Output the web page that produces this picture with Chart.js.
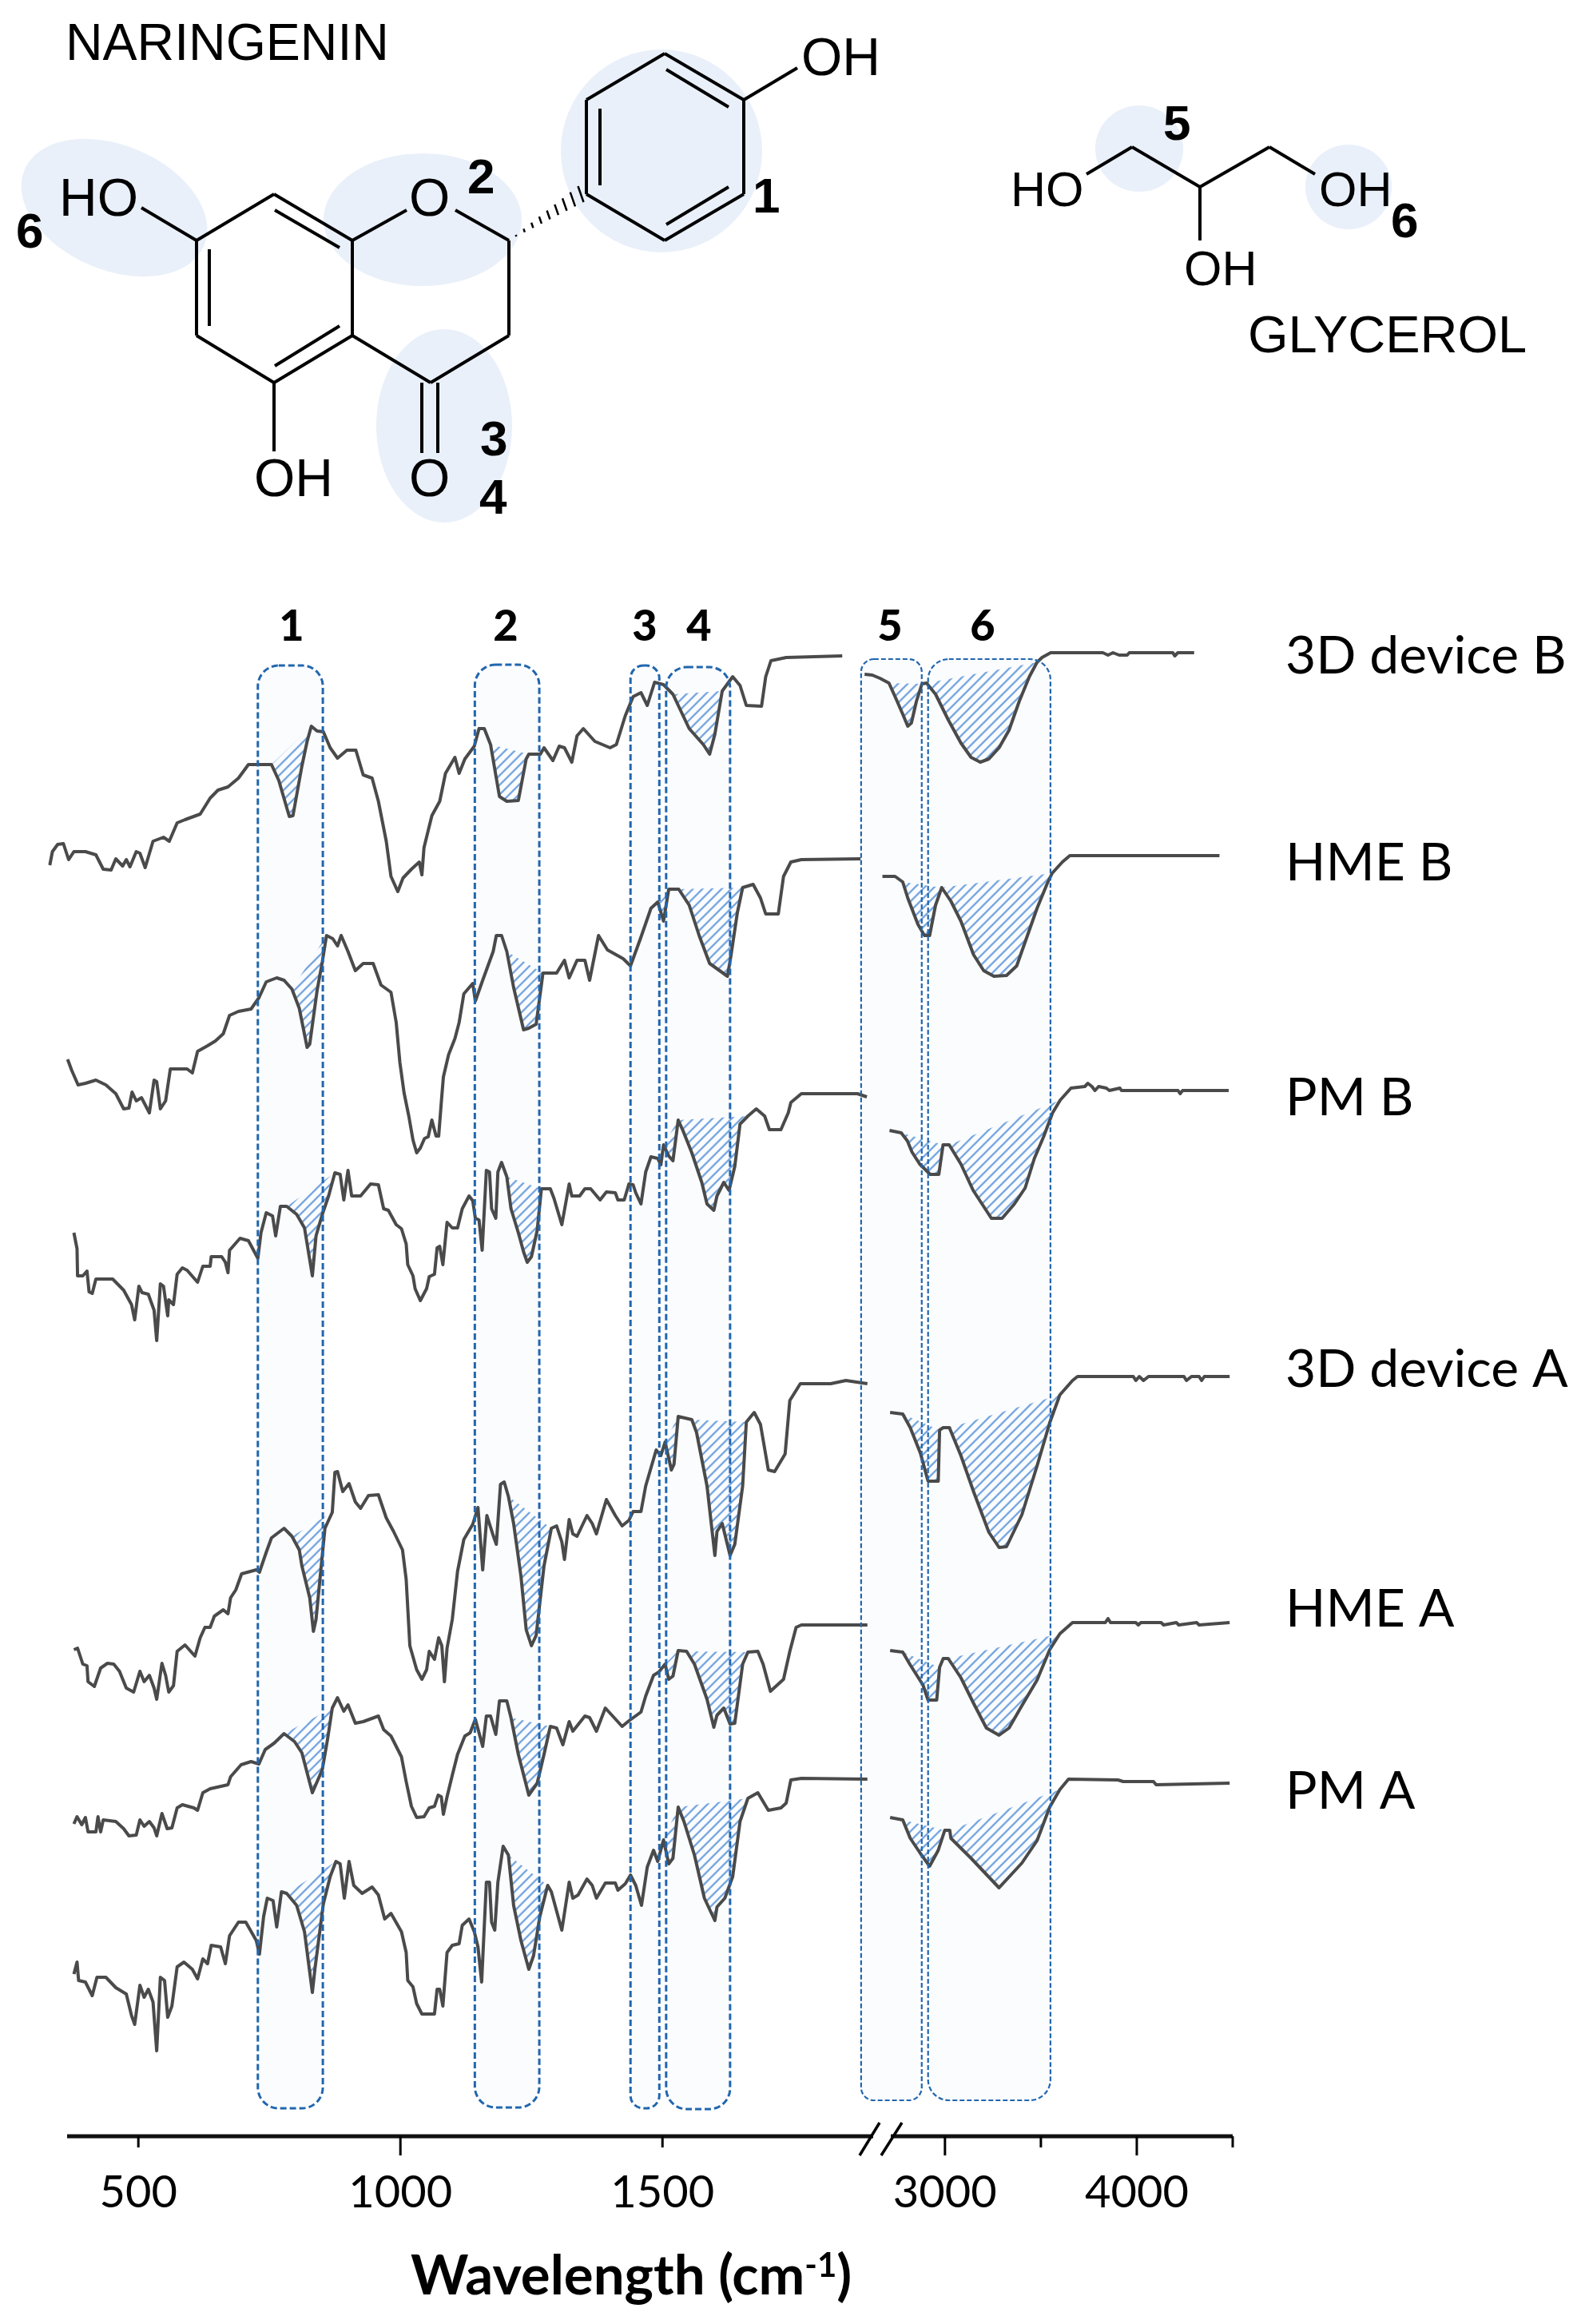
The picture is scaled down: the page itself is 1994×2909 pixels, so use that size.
<!DOCTYPE html>
<html>
<head>
<meta charset="utf-8">
<title>FTIR spectra of naringenin and glycerol</title>
<script src="https://cdn.jsdelivr.net/npm/chart.js@4/dist/chart.umd.js"></script>
<style>
  html, body { margin: 0; padding: 0; background: #fff; }
  canvas { display: block; }
</style>
</head>
<body>
<canvas id="ftir-chart" width="1994" height="2909"></canvas>
<script>
// Spectra. x is wavenumber (cm-1), y is the stacked
// transmittance offset above the axis (a.u.)
const deviceBX = [331,336,346,357,367,377,399,419,433,448,457,470,477,484,496,503,513,528,548,559,574,589,618,637,652,671,691,710,754,768,788,795,812,822,830,841,853,866,880,898,915,929,946,958,973,982,995,1005,1021,1036,1041,1045,1060,1075,1086,1104,1112,1123,1141,1150,1160,1172,1189,1203,1225,1240,1245,1267,1274,1291,1303,1313,1327,1337,1349,1371,1400,1412,1429,1444,1459,1471,1485,1502,1520,1551,1578,1590,1600,1614,1634,1648,1660,1689,1697,1707,1736,1843,
  2581,2621,2661,2708,2740,2780,2806,2825,2851,2880,2904,2951,3017,3083,3136,3184,3229,3282,3334,3387,3440,3480,3506,3551,3823,3850,3876,3908,3950,3961,4188,4198,4214,4299];
const deviceBY = [1590,1607,1616,1617,1597,1607,1607,1603,1585,1584,1598,1589,1597,1588,1607,1605,1587,1620,1625,1620,1643,1647,1654,1674,1684,1688,1699,1716,1716,1696,1651,1652,1714,1745,1764,1758,1757,1737,1724,1734,1734,1703,1699,1670,1620,1576,1557,1574,1585,1594,1578,1612,1652,1670,1705,1725,1705,1723,1739,1761,1761,1741,1676,1670,1671,1723,1729,1729,1737,1721,1739,1737,1719,1752,1761,1745,1737,1741,1777,1801,1806,1790,1819,1816,1804,1761,1741,1729,1754,1808,1826,1815,1790,1789,1826,1846,1850,1852,
  1829,1828,1824,1818,1801,1779,1764,1768,1795,1817,1818,1804,1772,1743,1725,1719,1723,1737,1759,1795,1826,1844,1850,1856,1856,1853,1856,1853,1853,1856,1856,1852,1856,1856];

const hmeBX = [365,373,385,399,419,438,457,472,482,488,496,506,521,530,535,542,552,561,593,603,613,632,647,662,674,691,715,730,744,764,778,793,807,822,827,841,851,859,871,880,887,900,914,929,948,963,982,992,999,1007,1016,1024,1031,1038,1046,1053,1060,1068,1073,1078,1082,1092,1104,1112,1121,1138,1143,1157,1177,1183,1193,1203,1216,1235,1245,1259,1272,1298,1313,1322,1337,1352,1361,1378,1395,1425,1439,1459,1478,1491,1502,1512,1531,1551,1570,1590,1624,1631,1643,1653,1673,1687,1697,1721,1731,1745,1765,1878,
  2674,2740,2780,2806,2859,2893,2920,2951,2983,3031,3083,3149,3202,3255,3321,3374,3427,3480,3533,3559,3612,3651,4431];
const hmeBY = [1347,1333,1315,1317,1321,1315,1304,1285,1286,1306,1295,1299,1280,1321,1319,1285,1295,1335,1335,1330,1357,1364,1370,1379,1402,1407,1410,1424,1444,1449,1446,1435,1411,1362,1366,1433,1469,1502,1498,1489,1502,1482,1458,1467,1467,1440,1431,1393,1343,1305,1276,1246,1230,1236,1248,1250,1271,1251,1251,1293,1325,1353,1373,1393,1429,1442,1420,1446,1482,1502,1502,1482,1437,1384,1386,1391,1455,1455,1471,1449,1471,1471,1446,1502,1484,1473,1464,1500,1536,1544,1520,1560,1560,1540,1502,1467,1451,1478,1531,1562,1566,1549,1529,1529,1576,1594,1597,1598,
  1576,1576,1569,1549,1516,1502,1502,1540,1562,1545,1520,1478,1458,1451,1452,1464,1500,1536,1567,1580,1594,1602,1602];

const pmBX = [377,383,384,394,402,406,412,419,451,472,487,493,501,507,519,530,535,542,548,556,558,567,574,584,593,613,623,637,639,659,666,671,674,694,710,728,734,744,756,762,771,783,802,817,832,839,851,863,875,885,892,900,907,924,943,958,968,977,992,1002,1011,1014,1024,1028,1038,1050,1055,1065,1070,1075,1081,1089,1099,1109,1118,1131,1138,1143,1150,1156,1164,1170,1174,1182,1186,1193,1203,1211,1225,1235,1242,1250,1261,1269,1286,1293,1308,1322,1327,1342,1352,1363,1381,1393,1410,1415,1427,1436,1444,1449,1459,1468,1478,1491,1497,1502,1512,1520,1530,1539,1556,1575,1585,1598,1604,1617,1627,1638,1648,1663,1679,1695,1704,1726,1740,1745,1765,1872,1890,
  2711,2772,2804,2828,2868,2923,2968,2990,3022,3083,3147,3242,3298,3362,3418,3466,3514,3561,3601,3657,3729,3745,3766,3782,3801,3841,3857,3912,3920,4215,4226,4239,4479];
const pmBY = [1130,1110,1076,1076,1082,1056,1054,1072,1072,1058,1040,1021,1063,1055,1053,1033,995,1066,1063,1026,1046,1040,1078,1086,1083,1068,1088,1088,1100,1100,1093,1080,1108,1123,1120,1098,1130,1155,1151,1126,1163,1163,1153,1136,1076,1126,1153,1176,1205,1203,1171,1208,1176,1176,1191,1190,1160,1158,1140,1135,1116,1090,1076,1060,1045,1060,1075,1078,1111,1113,1090,1143,1136,1136,1160,1176,1170,1148,1146,1108,1208,1206,1160,1148,1206,1218,1200,1160,1130,1106,1093,1100,1133,1185,1185,1173,1140,1191,1176,1176,1185,1185,1171,1181,1180,1171,1171,1191,1190,1180,1166,1206,1225,1223,1215,1240,1226,1220,1271,1258,1230,1193,1166,1158,1176,1193,1183,1213,1266,1276,1285,1276,1259,1259,1280,1293,1304,1304,1300,
  1258,1255,1245,1231,1216,1203,1203,1240,1240,1216,1183,1148,1148,1166,1186,1223,1250,1280,1296,1311,1313,1317,1313,1308,1313,1311,1308,1311,1308,1308,1304,1308,1308];

const deviceAX = [377,384,394,402,404,416,428,441,453,464,477,491,503,511,521,530,535,545,552,558,567,574,589,608,618,627,637,645,662,671,676,686,697,725,731,744,754,778,793,807,812,827,834,839,856,870,875,880,890,902,914,924,939,958,973,987,1004,1011,1018,1031,1041,1050,1055,1065,1073,1079,1084,1089,1099,1109,1121,1138,1148,1157,1165,1177,1183,1191,1198,1206,1216,1230,1240,1250,1259,1274,1288,1298,1308,1313,1322,1329,1337,1356,1366,1374,1393,1410,1423,1436,1444,1459,1468,1488,1497,1505,1517,1522,1530,1556,1565,1585,1600,1604,1614,1629,1638,1653,1660,1675,1687,1702,1714,1734,1743,1763,1821,1850,1891,
  2714,2780,2819,2872,2912,2965,2972,2991,3023,3083,3149,3229,3282,3321,3401,3480,3546,3599,3665,3691,3982,3995,4013,4035,4061,4246,4259,4285,4325,4338,4352,4484];
const deviceAY = [608,610,590,588,568,562,585,591,590,581,560,555,581,568,576,560,546,591,576,555,563,606,614,600,623,636,636,650,658,653,673,683,703,708,705,730,748,760,750,733,713,673,631,646,760,780,830,831,806,816,793,785,801,802,773,756,733,696,613,583,571,583,606,596,623,613,568,610,646,706,746,765,786,708,776,751,740,815,818,800,766,700,633,613,626,713,760,763,743,721,771,753,750,776,766,753,796,776,763,770,781,781,813,858,851,868,833,840,900,896,880,813,726,756,766,726,740,813,893,905,890,833,831,853,920,941,941,945,941,
  905,903,886,854,819,819,883,886,886,851,806,755,736,737,777,838,892,927,945,950,950,945,950,945,950,950,945,950,950,945,950,950];

const hmeAX = [377,383,392,399,404,419,423,428,433,457,472,482,496,503,511,521,530,535,545,555,564,574,584,606,613,623,637,671,676,696,715,730,742,759,778,798,812,832,851,861,870,880,892,900,914,929,958,968,982,1002,1011,1021,1031,1045,1055,1065,1072,1078,1082,1089,1099,1109,1123,1133,1143,1157,1164,1172,1182,1189,1203,1211,1225,1245,1261,1274,1286,1298,1310,1322,1329,1352,1361,1374,1391,1405,1423,1436,1459,1468,1483,1493,1505,1512,1520,1530,1546,1561,1585,1598,1604,1617,1629,1638,1653,1663,1682,1692,1706,1731,1743,1755,1765,1891,
  2714,2780,2819,2885,2912,2957,2972,2991,3017,3083,3149,3216,3282,3334,3401,3480,3546,3599,3665,3836,3850,3863,3995,4008,4021,4127,4140,4206,4219,4312,4325,4484];
const hmeAY = [390,399,389,398,380,380,399,380,395,393,384,375,376,395,387,393,385,375,403,384,385,410,414,410,407,429,434,439,449,464,468,465,483,491,503,493,479,429,458,496,535,548,531,539,516,518,525,508,500,474,443,412,398,399,410,412,426,424,402,424,451,477,500,504,521,487,525,525,502,544,544,523,477,426,441,477,512,510,489,518,506,525,523,506,535,525,512,519,530,550,576,580,590,571,575,607,606,590,546,511,526,535,515,516,590,605,606,590,556,571,606,636,639,639,
  607,605,589,564,545,545,586,597,597,573,541,510,501,510,538,570,608,628,642,642,647,642,642,639,642,642,639,642,639,642,639,642];

const pmAX = [377,383,386,399,412,421,438,457,477,487,493,503,511,519,528,535,542,550,556,564,574,587,603,613,623,632,639,657,666,674,691,705,725,731,739,746,757,764,773,783,802,817,832,837,853,866,877,885,893,902,911,927,946,958,970,982,1002,1011,1014,1024,1031,1041,1065,1070,1075,1081,1089,1099,1112,1118,1131,1141,1148,1155,1164,1170,1174,1180,1186,1196,1206,1216,1230,1245,1254,1266,1281,1288,1308,1322,1329,1339,1356,1366,1374,1391,1410,1415,1429,1439,1449,1460,1471,1483,1491,1502,1512,1520,1530,1541,1561,1580,1600,1604,1619,1634,1648,1663,1682,1702,1726,1736,1745,1765,1891,
  2714,2780,2819,2872,2920,2965,2999,3025,3031,3136,3282,3401,3480,3546,3599,3644,3902,3929,4087,4101,4484];
const pmAY = [202,217,194,192,175,198,198,185,177,150,139,188,173,183,167,106,198,194,148,162,211,217,208,196,221,215,238,236,215,250,267,267,244,227,274,297,294,261,305,303,288,255,179,209,290,324,343,340,297,343,313,303,311,301,271,278,255,229,194,186,165,152,152,183,183,162,229,238,240,263,271,255,236,192,317,317,267,257,317,362,351,288,244,208,225,274,313,305,257,317,297,301,321,313,297,316,316,307,315,326,313,288,336,357,343,370,340,347,411,393,351,297,269,286,297,324,393,422,429,407,410,416,445,447,446,
  398,395,372,353,337,357,382,382,372,347,310,341,369,411,433,446,445,443,443,439,441];

// Shaded peaks per trace, [from, to] in cm-1
const deviceBPeaks = [[754,830],[1172,1245],[1471,1485],[1520,1614],[2708,2880],[2904,3480]];
const hmeBPeaks = [[793,859],[1203,1272],[1491,1512],[1531,1653],[2780,2983],[2983,3559]];
const pmBPeaks = [[783,875],[1203,1269],[1502,1530],[1530,1663],[2772,2990],[3022,3601]];
const deviceAPeaks = [[793,870],[1206,1288],[1505,1530],[1556,1660],[2780,2972],[3023,3599]];
const hmeAPeaks = [[778,870],[1211,1286],[1505,1530],[1546,1663],[2780,2972],[3017,3599]];
const pmAPeaks = [[783,877],[1206,1281],[1502,1530],[1530,1663],[2780,2999],[3025,3599]];

const traceNames = ["3D device B", "HME B", "PM B", "3D device A", "HME A", "PM A"];

// Axis
const tickValues = [500, 1000, 1500, 3000, 3500, 4000, 4500];
const tickLabels = ["500", "1000", "1500", "3000", "", "4000", ""];
const tickLengths = [14, 24, 14, 24, 14, 24, 14];

// Marked regions, cm-1 and offset units
const regionNames = ["1", "2", "3", "4", "5", "6"];
const regionFrom = [728, 1142, 1439, 1507, 1879, 2912];
const regionTo = [852, 1265, 1494, 1629, 2879, 3550];
const regionTop = [1840, 1841, 1840, 1838, 1848, 1848];
const regionBottom = [34, 35, 34, 33, 44, 44];

// x axis is broken: everything above the gap is squeezed onto the end of the scale
function toAxis(wn) {
  return wn < 2200 ? wn : 2039 + (wn - 3000) * 0.366;
}

function tracePoints(xs, ys) {
  const points = [];
  xs.forEach((x, i) => {
    if (i > 0 && xs[i - 1] < 2200 && x >= 2200) {
      points.push({ x: toAxis(x), y: null });
    }
    points.push({ x: toAxis(x), y: ys[i] });
  });
  return points;
}

function hatchPattern() {
  const size = 12;
  const tile = document.createElement("canvas");
  tile.width = size;
  tile.height = size;
  const c = tile.getContext("2d");
  c.strokeStyle = "#7aa9e0";
  c.lineWidth = 2.4;
  c.beginPath();
  c.moveTo(-2, size + 2);
  c.lineTo(size + 2, -2);
  c.moveTo(-2, 2);
  c.lineTo(2, -2);
  c.moveTo(size - 2, size + 2);
  c.lineTo(size + 2, size - 2);
  c.stroke();
  return c.createPattern(tile, "repeat");
}

const hatch = hatchPattern();

const traces = [
  [deviceBX, deviceBY, deviceBPeaks],
  [hmeBX, hmeBY, hmeBPeaks],
  [pmBX, pmBY, pmBPeaks],
  [deviceAX, deviceAY, deviceAPeaks],
  [hmeAX, hmeAY, hmeAPeaks],
  [pmAX, pmAY, pmAPeaks],
];

const datasets = [];
traces.forEach(([xs, ys, peaks], t) => {
  datasets.push({
    label: traceNames[t],
    data: tracePoints(xs, ys),
    borderColor: "#4a4a4a",
    borderWidth: 4,
    borderJoinStyle: "round",
    pointRadius: 0,
    tension: 0,
    fill: false,
    clip: false,
    order: 1,
  });
  peaks.forEach(([from, to]) => {
    const data = [];
    xs.forEach((x, i) => {
      if (x >= from && x <= to) data.push({ x: toAxis(x), y: ys[i] });
    });
    datasets.push({
      label: traceNames[t] + " peak",
      data: data,
      borderWidth: 0,
      pointRadius: 0,
      tension: 0,
      backgroundColor: hatch,
      fill: "shape",
      clip: false,
      order: 2,
    });
  });
});

// Structures above the plot, in page pixels
const STRUCT_FILL = "#e9f0fa";
const structBlobs = [
  [828, 189, 126, 127, 0], [529, 275, 124, 83, 0], [556, 533, 85, 121, 0], [143, 260, 122, 78, 0.4],
  [1426, 186, 55, 54, 0], [1688, 234, 54, 53, 0],
];
const structBonds = [
  [246,301,343,243],[343,243,441,301],[441,301,441,420],[441,420,343,479],[343,479,246,420],[246,420,246,301],
  [262,312,262,408],[344,263,425,310],[344,458,425,408],
  [441,301,509,263],[570,263,637,301],[637,301,637,420],[637,420,539,479],[539,479,441,420],
  [177,260,246,301],[343,479,343,565],[528,479,528,567],[548,479,548,567],
  [734,243,734,125],[734,125,832,67],[832,67,931,125],[931,125,931,243],[931,243,832,301],[832,301,734,243],
  [751,136,751,232],[834,87,912,134],[834,281,912,234],[931,125,998,85],
  [1360,218,1417,184],[1417,184,1502,234],[1502,234,1589,184],[1589,184,1646,218],[1502,234,1502,301],
];
const structTexts = [
  ["NARINGENIN", 82, 75, 64.5, ""], ["OH", 1003, 94, 66, ""], ["HO", 74, 270, 66, ""], ["O", 512, 270, 66, ""],
  ["OH", 318, 621, 66, ""], ["O", 512, 621, 66, ""],
  ["HO", 1265, 258, 61, ""], ["OH", 1651, 258, 61, ""], ["OH", 1482, 357, 61, ""], ["GLYCEROL", 1562, 441, 65, ""],
  ["2", 585, 242, 62, "bold"], ["1", 942, 266, 62, "bold"], ["6", 20, 310, 62, "bold"], ["3", 601, 570, 62, "bold"],
  ["4", 600, 643, 62, "bold"], ["5", 1456, 175, 62, "bold"], ["6", 1741, 297, 62, "bold"],
];
const regionNameX = [365, 633, 807, 875, 1114, 1230];
const traceNameY = [843, 1102, 1396, 1736, 2036, 2264];

function roundedBand(ctx, scales, i) {
  const x0 = scales.x.getPixelForValue(toAxis(regionFrom[i]));
  const x1 = scales.x.getPixelForValue(toAxis(regionTo[i]));
  const y0 = scales.y.getPixelForValue(regionTop[i]);
  const y1 = scales.y.getPixelForValue(regionBottom[i]);
  ctx.beginPath();
  ctx.roundRect(x0, y0, x1 - x0, y1 - y0, i === 4 || i === 2 ? 16 : 26);
}

const regionsAndLabels = {
  id: "regionsAndLabels",
  beforeDatasetsDraw(chart) {
    const { ctx, scales } = chart;
    ctx.save();
    ctx.fillStyle = "#fbfcfe";
    regionNames.forEach((_, i) => {
      roundedBand(ctx, scales, i);
      ctx.fill();
    });
    ctx.restore();
  },
  afterDatasetsDraw(chart) {
    const { ctx, scales } = chart;
    ctx.save();
    ctx.strokeStyle = "#2166ae";
    regionNames.forEach((_, i) => {
      ctx.lineWidth = i > 3 ? 2.2 : 3;
      ctx.setLineDash(i > 3 ? [6, 3] : [8, 4]);
      roundedBand(ctx, scales, i);
      ctx.stroke();
    });
    ctx.setLineDash([]);

    // axis line starts right of the first trace point, so it is drawn here
    const axisY = scales.x.top + 1;
    const axisEnd = scales.x.getPixelForValue(toAxis(4500));
    ctx.strokeStyle = "#111";
    ctx.lineWidth = 5;
    ctx.beginPath();
    ctx.moveTo(84, axisY);
    ctx.lineTo(axisEnd, axisY);
    ctx.stroke();

    // tick marks, lengths differ so the grid option cannot draw them
    ctx.strokeStyle = "#000";
    ctx.lineWidth = 3;
    tickValues.forEach((v, i) => {
      const x = scales.x.getPixelForValue(toAxis(v));
      ctx.beginPath();
      ctx.moveTo(x, axisY);
      ctx.lineTo(x, axisY + tickLengths[i]);
      ctx.stroke();
    });

    // axis break
    ctx.fillStyle = "#fff";
    ctx.fillRect(1093, axisY - 6, 22, 12);
    ctx.lineWidth = 3.5;
    [[1076, 2698, 1101, 2657], [1103, 2698, 1129, 2657]].forEach(([x0, y0, x1, y1]) => {
      ctx.beginPath();
      ctx.moveTo(x0, y0);
      ctx.lineTo(x1, y1);
      ctx.stroke();
    });

    // axis title with superscript
    ctx.fillStyle = "#000";
    ctx.textAlign = "left";
    ctx.textBaseline = "alphabetic";
    ctx.font = "bold 69px Lato";
    const titleText = "Wavelength (cm";
    let tx = 514;
    ctx.fillText(titleText, tx, 2872);
    tx += ctx.measureText(titleText).width;
    ctx.font = "bold 42px Lato";
    ctx.fillText("-1", tx, 2850);
    tx += ctx.measureText("-1").width;
    ctx.font = "bold 69px Lato";
    ctx.fillText(")", tx, 2872);

    // region numbers and trace names
    ctx.textAlign = "center";
    ctx.font = "900 54px Lato";
    regionNames.forEach((name, i) => ctx.fillText(name, regionNameX[i], 802));
    ctx.textAlign = "left";
    ctx.font = "66px Lato";
    traceNames.forEach((name, i) => ctx.fillText(name, 1609, traceNameY[i]));
    ctx.restore();
  },
};

const structures = {
  id: "structures",
  beforeDraw(chart) {
    const { ctx } = chart;
    ctx.save();
    ctx.fillStyle = STRUCT_FILL;
    structBlobs.forEach(([cx, cy, rx, ry, rot]) => {
      ctx.beginPath();
      ctx.ellipse(cx, cy, rx, ry, rot, 0, Math.PI * 2);
      ctx.fill();
    });
    ctx.strokeStyle = "#000";
    ctx.lineWidth = 4;
    structBonds.forEach(([x0, y0, x1, y1]) => {
      ctx.beginPath();
      ctx.moveTo(x0, y0);
      ctx.lineTo(x1, y1);
      ctx.stroke();
    });
    // hashed stereo bond
    ctx.lineWidth = 2.5;
    for (let k = 0; k < 9; k++) {
      const f = k / 8;
      const x = 646 + (727 - 646) * f;
      const y = 295 + (243 - 295) * f;
      const half = 1 + 9 * f;
      ctx.beginPath();
      ctx.moveTo(x - half * 0.35, y - half);
      ctx.lineTo(x + half * 0.35, y + half);
      ctx.stroke();
    }
    ctx.fillStyle = "#000";
    ctx.textAlign = "left";
    ctx.textBaseline = "alphabetic";
    structTexts.forEach(([text, x, y, size, weight]) => {
      ctx.font = `${weight} ${size}px "Liberation Sans"`;
      ctx.fillText(text, x, y);
    });
    ctx.restore();
  },
};

new Chart(document.getElementById("ftir-chart"), {
  type: "line",
  data: { datasets: datasets },
  plugins: [structures, regionsAndLabels],
  options: {
    responsive: false,
    animation: false,
    events: [],
    layout: { padding: { left: 61, right: 451, top: 0, bottom: 0 } },
    plugins: {
      legend: { display: false },
      tooltip: { enabled: false },
      title: { display: false },
    },
    scales: {
      x: {
        type: "linear",
        min: 329,
        max: 2588,
        afterFit: (scale) => {
          scale.height = 236;
        },
        afterBuildTicks: (scale) => {
          scale.ticks = tickValues.map((v) => ({ value: toAxis(v) }));
        },
        grid: { display: false, drawTicks: false },
        border: { display: false },
        ticks: {
          autoSkip: false,
          maxRotation: 0,
          minRotation: 0,
          padding: 38,
          color: "#000",
          font: { family: "Lato", size: 56 },
          callback: (value, index) => tickLabels[index],
        },
      },
      y: {
        display: false,
        min: 0,
        max: 2673,
      },
    },
  },
});
</script>
</body>
</html>
